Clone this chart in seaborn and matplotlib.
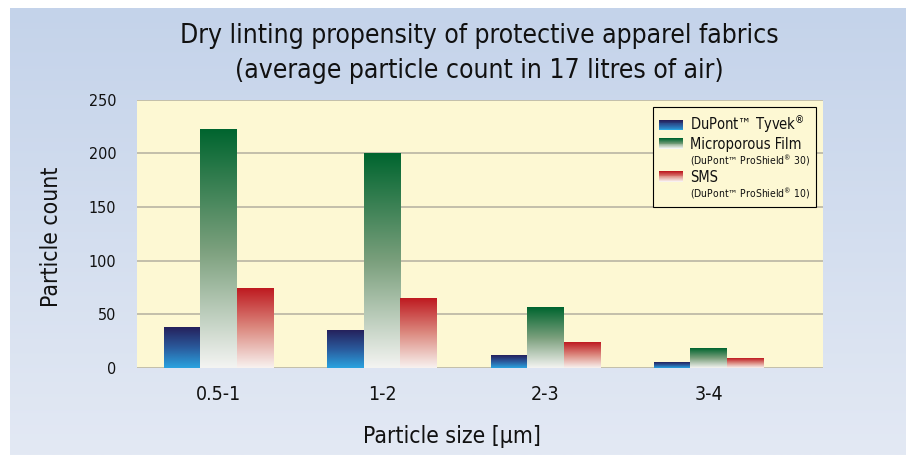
import numpy as np
import pandas as pd
import matplotlib
matplotlib.use('Agg')
import matplotlib.pyplot as plt
import matplotlib.colors as mcolors
from matplotlib import font_manager
from matplotlib.patches import Rectangle
from matplotlib.legend_handler import HandlerBase
import seaborn as sns

sizes = ['0.5-1', '1-2', '2-3', '3-4']
tyvek = [38, 35, 12, 5]
microporous = [222, 200, 56, 18]
sms = [74, 65, 24, 9]
fabrics = ['DuPont™ Tyvek®', 'Microporous Film', 'SMS']
y_ticks = [0, 50, 100, 150, 200, 250]

# gradients top -> bottom for each fabric
grad_colors = {
    'DuPont™ Tyvek®': ['#25215c', '#2a5a9c', '#2aa3e0'],
    'Microporous Film': ['#00652f', '#7a9f7c', '#f4f4f2'],
    'SMS': ['#be1a20', '#dc8a80', '#f8f2f0'],
}

sns.set_style('white')
names = {f.name for f in font_manager.fontManager.ttflist}
condensed = any(f.name == 'DejaVu Sans' and f.stretch == 'condensed'
                for f in font_manager.fontManager.ttflist)
FONT = 'Liberation Sans Narrow' if 'Liberation Sans Narrow' in names else 'DejaVu Sans'
plt.rcParams['font.family'] = [FONT, 'DejaVu Sans']
plt.rcParams['font.stretch'] = 'condensed'
plt.rcParams['text.color'] = '#111111'
plt.rcParams['xtick.color'] = '#111111'
plt.rcParams['ytick.color'] = '#111111'
plt.rcParams['mathtext.fontset'] = 'custom'
plt.rcParams['mathtext.rm'] = FONT
plt.rcParams['mathtext.it'] = FONT
# shrink a little if no narrow face is present
k = 1.0 if (FONT != 'DejaVu Sans' or condensed) else 0.9

df = pd.DataFrame({
    'size': sizes * 3,
    'count': tyvek + microporous + sms,
    'fabric': [fabrics[0]] * 4 + [fabrics[1]] * 4 + [fabrics[2]] * 4,
})

fig = plt.figure(figsize=(9.11, 4.55), dpi=100)

# background panel with vertical gradient
bg = fig.add_axes([10 / 911, 0, 896 / 911, 1 - 8 / 455], zorder=-10)
bg_cmap = mcolors.LinearSegmentedColormap.from_list('bg', ['#e3e9f4', '#c4d3ea'])
bg.imshow(np.linspace(0, 1, 256).reshape(-1, 1), cmap=bg_cmap, aspect='auto',
          origin='lower', extent=[0, 1, 0, 1])
bg.set_axis_off()

ax = fig.add_axes([137 / 911, 1 - 368 / 455, 686 / 911, 268.5 / 455])
ax.set_facecolor('#fdf8d3')

sns.barplot(data=df, x='size', y='count', hue='fabric', hue_order=fabrics,
            width=0.67, gap=0, ax=ax, legend=False, palette=['#333'] * 3)

# replace flat bars with vertical gradients
for fab, cont in zip(fabrics, ax.containers):
    cmap = mcolors.LinearSegmentedColormap.from_list(fab, grad_colors[fab][::-1])
    for bar in cont:
        x0, y0 = bar.get_x(), bar.get_y()
        w, h = bar.get_width(), bar.get_height()
        bar.set_visible(False)
        ax.imshow(np.linspace(0, 1, 256).reshape(-1, 1), cmap=cmap, aspect='auto',
                  origin='lower', extent=[x0, x0 + w, y0, y0 + h], zorder=3)

ax.set_xlim(-0.5, 3.7)
ax.set_ylim(0, 250)
ax.set_aspect('auto')
ax.set_yticks(y_ticks)
ax.grid(axis='y', color='#b9b5a3', linewidth=1.2, zorder=1)
ax.set_axisbelow(True)
for s in ax.spines.values():
    s.set_visible(False)
ax.tick_params(axis='y', length=7, width=1.2, color='#b9b5a3', labelcolor='#111111',
               pad=8, labelsize=11.5 * k)
ax.tick_params(axis='x', length=0, pad=12, labelsize=14 * k)
ax.set_xlabel('')
ax.set_ylabel('')


class GradientHandler(HandlerBase):
    def __init__(self, colors):
        super().__init__()
        self.colors = colors

    def create_artists(self, legend, orig_handle, xdescent, ydescent, width, height, fontsize, trans):
        cmap = mcolors.LinearSegmentedColormap.from_list('h', self.colors[::-1])
        n = 12
        arts = []
        for i in range(n):
            r = Rectangle((-xdescent, -ydescent + height * i / n), width, height / n + 0.2,
                          facecolor=cmap(i / (n - 1)), edgecolor='none', transform=trans)
            arts.append(r)
        return arts


class BlankHandler(HandlerBase):
    def create_artists(self, legend, orig_handle, xdescent, ydescent, width, height, fontsize, trans):
        r = Rectangle((0, 0), 0, 0, visible=False, transform=trans)
        return [r]


handles = [Rectangle((0, 0), 1, 1, label=str(i)) for i in range(5)]
labels = ['DuPont™ Tyvek$^{®}$', 'Microporous Film', '(DuPont™ ProShield$^{®}$ 30)',
          'SMS', '(DuPont™ ProShield$^{®}$ 10)']
hmap = {
    handles[0]: GradientHandler(grad_colors[fabrics[0]]),
    handles[1]: GradientHandler(grad_colors[fabrics[1]]),
    handles[2]: BlankHandler(),
    handles[3]: GradientHandler(grad_colors[fabrics[2]]),
    handles[4]: BlankHandler(),
}
leg = ax.legend(handles, labels, handler_map=hmap, loc='upper right',
                bbox_to_anchor=(0.99, 0.972), borderaxespad=0, fancybox=False,
                frameon=True, edgecolor='black', facecolor='#fdf8d3', framealpha=1,
                fontsize=10.5 * k, handlelength=1.6, handleheight=0.7, handletextpad=0.5,
                labelspacing=0.1, borderpad=0.4)
leg.get_frame().set_linewidth(0.8)
for i in (2, 4):
    leg.get_texts()[i].set_fontsize(7.5 * k)

fig.text(0.526, 1 - 36 / 455, 'Dry linting propensity of protective apparel fabrics',
         ha='center', va='center', fontsize=19 * k)
fig.text(0.526, 1 - 71 / 455, '(average particle count in 17 litres of air)',
         ha='center', va='center', fontsize=19 * k)
fig.text(52 / 911, 1 - 237 / 455, 'Particle count', rotation=90,
         ha='center', va='center', fontsize=16.5 * k)
fig.text(452 / 911, 1 - 437 / 455, 'Particle size [µm]',
         ha='center', va='center', fontsize=16.5 * k)

fig.savefig('out.png', dpi=100)
